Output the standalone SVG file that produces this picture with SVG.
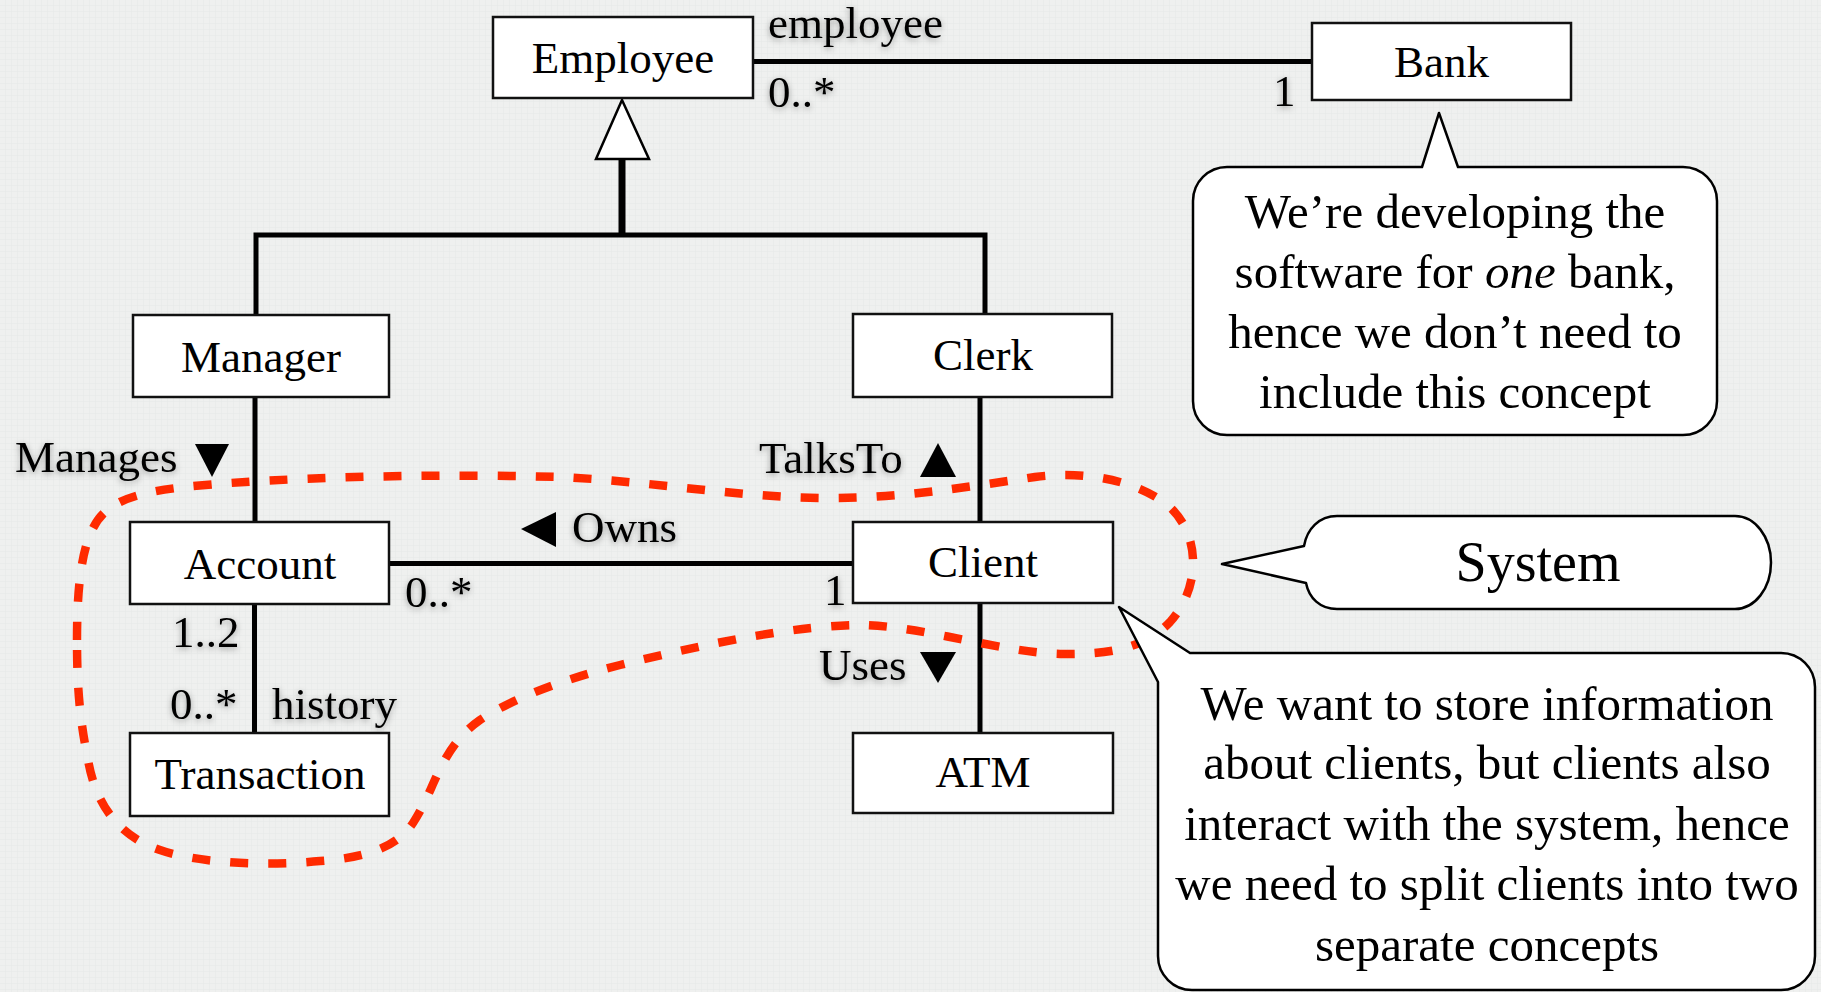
<svg xmlns="http://www.w3.org/2000/svg" width="1821" height="992" viewBox="0 0 1821 992">
<defs>
<pattern id="grid" width="6" height="6" patternUnits="userSpaceOnUse">
<rect width="6" height="6" fill="#eff0ef"/>
<path d="M6 0V6M0 6H6" stroke="#e6e8e7" stroke-width="1" fill="none"/>
</pattern>
<filter id="ts" x="-20%" y="-40%" width="140%" height="180%">
<feDropShadow dx="0" dy="2" stdDeviation="3" flood-color="#000" flood-opacity="0.35"/>
</filter>
<style>
.box{fill:#fff;stroke:#111;stroke-width:2.5}
.name{font-family:"Liberation Serif","Times New Roman",serif;font-size:45px;fill:#000;text-anchor:middle}
.lbl{font-family:"Liberation Serif","Times New Roman",serif;font-size:45px;fill:#000;filter:url(#ts)}
.ln{stroke:#000;stroke-width:5;fill:none}
.tri{fill:#000}
.call{fill:#fff;stroke:#000;stroke-width:2.5;stroke-linejoin:round}
.ctext{font-family:"Liberation Serif","Times New Roman",serif;font-size:49px;fill:#000;text-anchor:middle}
.sys{stroke:#ff2a00;stroke-width:8.5;fill:none;stroke-dasharray:18 20}
</style>
</defs>
<rect width="1821" height="992" fill="url(#grid)"/>

<g id="connectors">
<line class="ln" x1="753" y1="61.5" x2="1312" y2="61.5"/>
<line x1="622" y1="159" x2="622" y2="235" stroke="#000" stroke-width="7"/>
<polyline class="ln" points="256,316 256,235 985,235 985,314"/>
<line class="ln" x1="255" y1="397" x2="255" y2="522"/>
<line class="ln" x1="254.5" y1="604" x2="254.5" y2="733"/>
<line class="ln" x1="980" y1="397" x2="980" y2="522"/>
<line class="ln" x1="980" y1="603" x2="980" y2="733"/>
<line class="ln" x1="389" y1="563.5" x2="853" y2="563.5"/>
<polygon points="622,100 596,159 649,159" fill="#fff" stroke="#000" stroke-width="2.5" stroke-linejoin="miter"/>
<polygon class="tri" points="195,444 229,444 212,477"/>
<polygon class="tri" points="920,477 956,477 938,443"/>
<polygon class="tri" points="556,512 556,547 521,529"/>
<polygon class="tri" points="920,652 956,652 938,683"/>
</g>

<g id="labels">
<text class="lbl" x="768" y="38">employee</text>
<text class="lbl" x="768" y="107">0..*</text>
<text class="lbl" x="1273" y="106">1</text>
<text class="lbl" x="15" y="472">Manages</text>
<text class="lbl" x="759" y="473">TalksTo</text>
<text class="lbl" x="572" y="542">Owns</text>
<text class="lbl" x="819" y="680">Uses</text>
<text class="lbl" x="405" y="607">0..*</text>
<text class="lbl" x="824" y="605">1</text>
<text class="lbl" x="172" y="647">1..2</text>
<text class="lbl" x="170" y="719">0..*</text>
<text class="lbl" x="272" y="719">history</text>
</g>

<g id="Employee"><rect class="box" x="493" y="17" width="260" height="81"/><text class="name" x="623" y="73">Employee</text></g>
<g id="Bank"><rect class="box" x="1312" y="23" width="259" height="77"/><text class="name" x="1441.5" y="77">Bank</text></g>
<g id="Manager"><rect class="box" x="133" y="315" width="256" height="82"/><text class="name" x="261" y="371.5">Manager</text></g>
<g id="Clerk"><rect class="box" x="853" y="314" width="259" height="83"/><text class="name" x="983" y="370">Clerk</text></g>
<g id="Account"><rect class="box" x="130" y="522" width="259" height="82"/><text class="name" x="260" y="579">Account</text></g>
<g id="Client"><rect class="box" x="853" y="522" width="260" height="81"/><text class="name" x="983" y="577">Client</text></g>
<g id="Transaction"><rect class="box" x="130" y="733" width="259" height="83"/><text class="name" x="260" y="789">Transaction</text></g>
<g id="ATM"><rect class="box" x="853" y="733" width="260" height="80"/><text class="name" x="983" y="787">ATM</text></g>

<g id="system-boundary">
<path class="sys" d="M77,640 C77,570 85,530 105,512 C125,494 160,488 230,483 C330,476 450,474 560,477 C650,481 740,498 830,498 C900,498 960,488 1035,477 C1080,471 1130,478 1165,503 C1200,530 1203,585 1170,622 C1145,648 1110,655 1060,654 C1000,652 930,628 866,625 C800,624 700,645 620,665 C560,680 510,700 480,720 C440,748 435,790 413,823 C395,850 360,858 320,861 C270,866 200,864 160,850 C115,835 95,800 88,760 C80,720 77,690 77,640 Z"/>
</g>

<g id="note-bank">
<path class="call" d="M1227,167 H1422 L1439,113 L1458,167 H1683 A34,34 0 0 1 1717,201 V401 A34,34 0 0 1 1683,435 H1227 A34,34 0 0 1 1193,401 V201 A34,34 0 0 1 1227,167 Z"/>
<text class="ctext" x="1455" y="228">We’re developing the</text>
<text class="ctext" x="1455" y="288">software for <tspan font-style="italic">one</tspan> bank,</text>
<text class="ctext" x="1455" y="348">hence we don’t need to</text>
<text class="ctext" x="1455" y="408">include this concept</text>
</g>

<g id="note-system">
<path class="call" d="M1337,516 H1735 A36,46.5 0 0 1 1735,609 H1337 C1320,609 1309,598 1306,583 L1222,564 L1304,546 C1307,529 1319,516 1337,516 Z"/>
<text class="ctext" x="1538" y="581" style="font-size:56px">System</text>
</g>

<g id="note-clients">
<path class="call" d="M1190,653 H1781 A34,34 0 0 1 1815,687 V956 A34,34 0 0 1 1781,990 H1192 A34,34 0 0 1 1158,956 V682 L1119,607 Z"/>
<text class="ctext" x="1487" y="720">We want to store information</text>
<text class="ctext" x="1487" y="779">about clients, but clients also</text>
<text class="ctext" x="1487" y="840">interact with the system, hence</text>
<text class="ctext" x="1487" y="900">we need to split clients into two</text>
<text class="ctext" x="1487" y="961">separate concepts</text>
</g>
</svg>
